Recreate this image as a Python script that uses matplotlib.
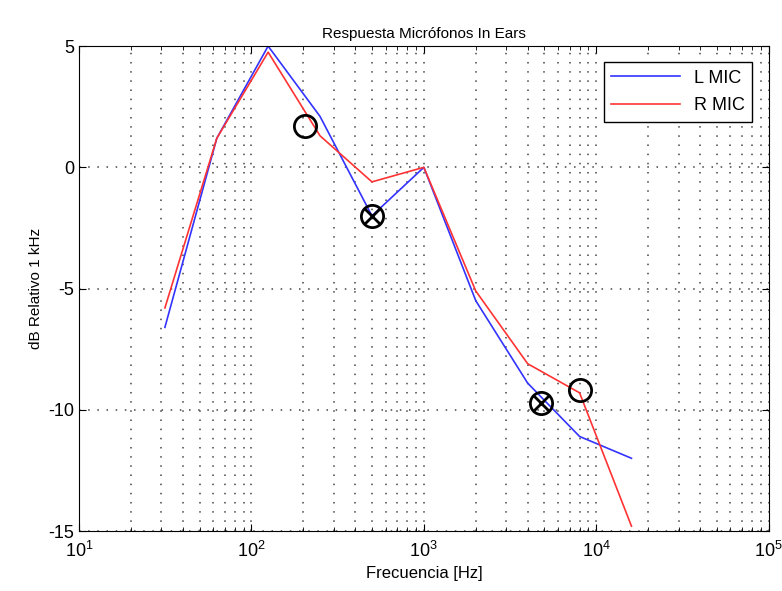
import matplotlib
matplotlib.use("Agg")
import matplotlib.pyplot as plt
import numpy as np

plt.rcParams['font.family'] = ['Liberation Sans', 'DejaVu Sans']
plt.rcParams['axes.unicode_minus'] = False

freqs = [31.5, 63, 125, 250, 500, 1000, 2000, 4000, 8000, 16000]
l_mic = [-6.6, 1.2, 5.0, 2.1, -2.0, 0.0, -5.5, -8.9, -11.1, -12.0]
r_mic = [-5.8, 1.2, 4.75, 1.3, -0.6, 0.0, -5.1, -8.1, -9.3, -14.8]

circle_f = [204, 8000]
circle_v = [1.7, -9.2]
xcirc_f = [500, 4800]
xcirc_v = [-2.0, -9.7]

fig = plt.figure(figsize=(7.82, 5.91), dpi=100)
ax = fig.add_axes([0.101, 0.1015, 0.882, 0.8205])

ax.semilogx(freqs, l_mic, color='#3333ff', lw=1.2, label='L MIC')
ax.semilogx(freqs, r_mic, color='#ff3333', lw=1.2, label='R MIC')

ax.plot(circle_f, circle_v, 'o', ms=16, mfc='none', mec='black', mew=2)
ax.plot(xcirc_f, xcirc_v, 'o', ms=16, mfc='none', mec='black', mew=2)
ax.plot(xcirc_f, xcirc_v, 'x', ms=11, mec='black', mew=2)

ax.set_xlim(10, 1e5)
ax.set_ylim(-15, 5)
ax.set_yticks([-15, -10, -5, 0, 5])
gstyle = dict(linestyle=(0, (1, 5)), color='#444444', lw=1.1)
ax.grid(True, which='both', axis='x', **gstyle)
ax.grid(True, which='major', axis='y', **gstyle)
ax.tick_params(which='both', direction='in', top=True, right=True, labelsize=13)
ax.tick_params(which='major', length=5)
ax.tick_params(which='minor', length=3)
ax.tick_params(axis='x', which='major', pad=7)

ax.set_title('Respuesta Micrófonos In Ears', fontsize=11)
ax.set_xlabel('Frecuencia [Hz]', fontsize=12)
ax.set_ylabel('dB Relativo 1 kHz', fontsize=11)

leg = ax.legend(loc='upper right', fontsize=13, fancybox=False, framealpha=1,
                edgecolor='black', handlelength=3.8, borderaxespad=0.9,
                labelspacing=0.6)
leg.get_frame().set_linewidth(1)

fig.savefig('out.png', dpi=100)
